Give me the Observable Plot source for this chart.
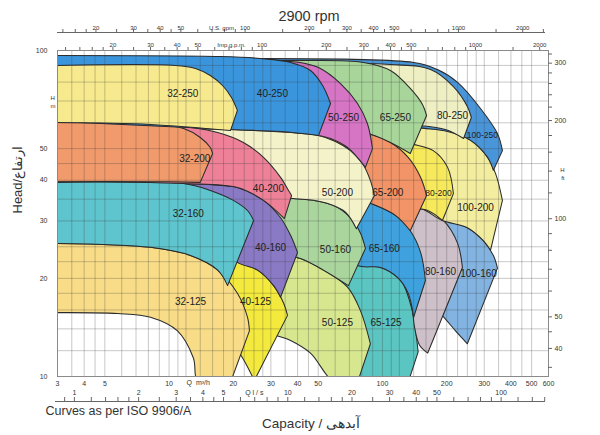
<!DOCTYPE html>
<html><head><meta charset="utf-8">
<script src="https://cdn.jsdelivr.net/npm/d3@7"></script>
<script src="https://cdn.jsdelivr.net/npm/@observablehq/plot@0.6"></script>
<style>body{margin:0;background:#fff}</style>
</head><body><div id="chart"></div>
<script>
// ---------- DATA (Q in m³/h, H in m) ----------
// Row 250
const top_100_250 = [[3,93.2],[140,91.9],[181,87.4],[225,79.8],[288,66.4],[346,55.6],[365,49.3]];
const bot_100_250 = [[331,42.9],[311,47.0],[259,53.0],[202,56.4],[146,58.1],[121,60.1],[3,62.3]];
const top_80_250 = [[3,91.2],[109,90.6],[168,87.4],[215,77.5],[250,67.3],[261,62.3]];
const bot_80_250 = [[240,53.7],[197,57.2],[146,58.9],[121,59.3],[3,61.9]];
const top_65_250 = [[3,93.2],[37.1,93.2],[81.5,91.9],[109,86.8],[135,76.5],[154,68.3],[161,63.2]];
const bot_65_250 = [[135,48.3],[109,52.2],[85,55.6],[63.6,56.0],[3,61.4]];
const top_50_250 = [[3,93.2],[37.1,92.5],[43.6,91.2],[50.2,88.7],[63.6,79.2],[76.4,68.8],[85,59.7],[89.8,50.0]];
const bot_50_250 = [[83.2,43.8],[68.6,50.4],[57.1,53.7],[50.2,54.9],[41.3,56.0],[3,61.0]];
const top_40_250 = [[3,96.5],[17.4,95.8],[26.8,94.5],[37.1,91.9],[46,86.8],[52.4,78.1],[57.1,68.8]];
const bot_40_250 = [[50.2,54.9],[33.3,56.4],[19.4,57.2],[3,60.6]];
const top_32_250 = [[3,90.0],[10.7,90.0],[13.3,88.1],[15.6,83.8],[17.8,78.1],[19.6,71.8],[20.9,65.5]];
const bot_32_250 = [[19.4,56.8],[8.18,59.3],[3,60.1]];
// Row 200
const top_100_200 = [[3,58.9],[146,58.1],[202,56.8],[259,53.0],[311,47.0],[339,41.9],[365,34.7]];
const bot_100_200 = [[321,24.4],[297,26.1],[250,28.6],[191,30.1],[151,32.8],[97.9,34.9],[41.3,37.5],[3,42.6]];
const top_80_200 = [[3,56.8],[97.9,54.9],[135,51.8],[173,49.3],[202,43.8],[215,36.4]];
const bot_80_200 = [[191,30.1],[163,32.3],[131,33.0],[97.9,34.7],[41.3,37.2],[3,42.3]];
const top_65_200 = [[3,58.5],[50.2,57.2],[85,55.6],[109,52.2],[132,47.0],[151,40.8],[161,35.9]];
const bot_65_200 = [[135,28.0],[115,31.2],[92.7,33.5],[73.1,35.2],[57.1,36.4],[26.8,37.7],[3,42.3]];
const top_50_200 = [[3,57.6],[19.4,57.2],[37.1,56.0],[50.2,54.9],[60.2,52.6],[70.8,49.3],[80.6,45.0],[87.8,39.9],[91.7,35.9]];
const bot_50_200 = [[75.5,28.4],[67.1,31.9],[57.1,33.7],[47.5,34.7],[37.1,35.2],[26.8,36.7],[19.4,38.8],[3,42.3]];
const top_40_200 = [[3,60.6],[8.18,60.1],[11.7,58.5],[16.9,56.0],[22.3,52.2],[27.7,47.0],[33.3,40.8],[36.3,37.2],[37.5,35.9]];
const bot_40_200 = [[34.7,30.5],[27.7,34.7],[20.9,38.0],[11.7,39.1],[3,39.6]];
const top_32_200 = [[3,60.1],[8.18,59.7],[11.7,57.6],[14.0,54.1],[15.6,50.4],[16.0,48.3]];
const bot_32_200 = [[14.0,39.4],[8.18,39.6],[3,39.6]];
// Row 160
const top_100_160 = [[3,31.9],[151,31.2],[191,30.1],[250,28.6],[297,26.1],[331,23.5],[346,21.5]];
const bot_100_160 = [[250,12.6],[220,13.8],[187,15.6],[159,17.1],[121,21.2],[97.9,22.4],[3,27.7]];
const top_80_160 = [[3,33.5],[97.9,33.7],[131,33.0],[163,32.3],[193,30.1],[225,25.6],[237,21.6]];
const bot_80_160 = [[163,11.8],[149,12.5],[141,14.3],[138,15.9],[121,20.0],[97.9,22.4],[3,27.1]];
const top_65_160 = [[3,34.7],[73.1,35.2],[92.7,33.5],[115,31.2],[135,28.0],[151,24.0],[159,19.7]];
const bot_65_160 = [[140,15.2],[132,18.0],[118,20.1],[97.9,21.6],[76.4,21.9],[57.1,26.1],[3,28.0]];
const top_50_160 = [[3,36.7],[24.1,36.2],[37.1,35.2],[47.5,34.7],[58.9,33.5],[70.8,30.7],[78.9,27.5],[83.2,24.7]];
const bot_50_160 = [[69.3,19.0],[52.9,21.2],[41.3,23.0],[33.3,23.8],[24.1,26.1],[3,28.0]];
const top_40_160 = [[3,39.6],[11.7,39.1],[20.9,38.0],[27.7,34.7],[33.3,30.7],[37.1,27.1],[40.0,24.0]];
const bot_40_160 = [[33.3,17.5],[30.9,19.0],[26.0,21.2],[20.9,22.4],[17.4,25.2],[8.18,27.1],[3,27.1]];
const top_32_160 = [[3,39.4],[11.7,39.1],[15.6,37.2],[20.0,34.7],[23.3,32.3],[24.9,30.1]];
const bot_32_160 = [[18.8,19.0],[16.9,21.2],[12.6,23.5],[8.18,24.9],[3,25.6]];
// Row 125
const top_65_125 = [[3,22.4],[76.4,21.9],[97.9,21.6],[118,20.1],[132,18.0],[140,15.2],[147,11.9]];
const bot_65_125 = [[132,9.59],[67.1,9.59],[57.1,10.6],[46.0,12.5],[37.1,13.6],[29.9,14.2],[25.4,15.4],[3,18.4]];
const top_50_125 = [[3,24.0],[33.3,23.8],[41.3,23.0],[52.9,21.2],[68.6,18.8],[78.9,15.9],[87.8,12.6]];
const bot_50_125 = [[76.4,9.59],[59.6,9.59],[46.0,11.8],[37.1,12.9],[29.9,13.6],[25.4,14.9],[3,17.1]];
const top_40_125 = [[3,24.4],[14.0,23.8],[20.9,22.4],[26.0,21.2],[30.9,19.0],[34.4,16.8],[35.9,15.4]];
const bot_40_125 = [[25.1,9.73],[22.8,11.0],[21.1,12.0],[19.0,13.5],[15.6,14.9],[11.3,16.5],[3,17.1]];
const top_32_125 = [[3,25.6],[8.18,24.9],[12.6,23.5],[16.9,21.2],[20.9,18.0],[23.3,15.2],[23.8,13.8]];
const bot_32_125 = [[19.4,9.59],[13.7,9.59],[13.0,11.4],[10.95,13.8],[8.18,15.2],[5.73,15.6],[3,15.7]];

// model names (draw order: lower rows first, larger pumps first in each row)
const models = ["65-125","50-125","40-125","32-125",
  "100-160","80-160","65-160","50-160","40-160","32-160",
  "100-200","80-200","65-200","50-200","40-200","32-200",
  "100-250","80-250","65-250","50-250","40-250","32-250"];
// label positions (Q, H) in the same order
const labelQ = [104,61.5,25.4,12.6, 282,187,102,60.2,29.9,12.3, 273,183,106,61.5,29.2,13.2, 294,213,115,65.7,30.5,11.6];
const labelH = [14.6,14.6,16.9,16.9, 20.7,20.9,24.7,24.55,24.9,31.6, 33.0,36.4,36.7,36.7,37.7,46.6, 54.9,63.2,62.3,62.3,73.8,73.8];

// axis tick values
const m3hLabels = [3,4,5,10,20,30,40,50,100,200,300,400,500,600];
const headLabels = [10,20,30,40,50,100];
const ftTicks = [35,40,45,50,60,70,80,90,100,120,140,160,180,200,220,240,260,280,300,320];
const ftLabels = [40,50,100,200,300];
const usTicks = [14,16,18,20,25,30,35,40,45,50,60,70,80,90,100,150,200,250,300,350,400,450,500,600,700,800,900,1000,1500,2000,2500];
const usLabels = [20,30,40,50,100,200,300,400,500,1000,2000];
const impTicks = [12,14,16,18,20,25,30,35,40,45,50,60,70,80,90,100,150,200,250,300,350,400,450,500,600,700,800,900,1000,1500,2000];
const impLabels = [20,30,40,50,100,200,300,400,500,1000,2000];
const lsTicks = [0.9,1,1.2,1.4,1.6,1.8,2,2.5,3,3.5,4,4.5,5,6,7,8,9,10,12,14,16,18,20,25,30,35,40,45,50,60,70,80,90,100,120,140,160];
const lsLabels = [1,2,3,4,5,10,20,30,40,50,100];
const gridQ = [3,3.5,4,4.5,5,6,7,8,9,10,11,12,14,16,18,20,22.5,25,27.5,30,35,40,45,50,60,70,80,90,100,110,120,140,160,180,200,225,250,275,300,350,400,450,500,600];
const gridH = [10,12,14,16,18,20,22.5,25,30,35,40,45,50,60,70,80,90,100];

// unit conversions to m³/h and m
const US_GPM = 4.4029, IMP_GPM = 3.6662, LPS = 3.6, FT = 3.2808;

// ---------- STYLE / LAYOUT ----------
const curves = {
  "100-250":[top_100_250,bot_100_250],"80-250":[top_80_250,bot_80_250],"65-250":[top_65_250,bot_65_250],
  "50-250":[top_50_250,bot_50_250],"40-250":[top_40_250,bot_40_250],"32-250":[top_32_250,bot_32_250],
  "100-200":[top_100_200,bot_100_200],"80-200":[top_80_200,bot_80_200],"65-200":[top_65_200,bot_65_200],
  "50-200":[top_50_200,bot_50_200],"40-200":[top_40_200,bot_40_200],"32-200":[top_32_200,bot_32_200],
  "100-160":[top_100_160,bot_100_160],"80-160":[top_80_160,bot_80_160],"65-160":[top_65_160,bot_65_160],
  "50-160":[top_50_160,bot_50_160],"40-160":[top_40_160,bot_40_160],"32-160":[top_32_160,bot_32_160],
  "65-125":[top_65_125,bot_65_125],"50-125":[top_50_125,bot_50_125],"40-125":[top_40_125,bot_40_125],"32-125":[top_32_125,bot_32_125]
};
const fillOf = {
  "32-250":"#f7ea8e","40-250":"#3b95dc","50-250":"#d575c4","65-250":"#a8d59a","80-250":"#efefc4","100-250":"#4895d9",
  "32-200":"#f19a6c","40-200":"#ee8098","50-200":"#f4f2c9","65-200":"#f29467","80-200":"#f7e95c","100-200":"#f3eda0",
  "32-160":"#5ec4cd","40-160":"#8a7ac6","50-160":"#aad69e","65-160":"#3fa2de","80-160":"#cdc0c9","100-160":"#82b3e1",
  "32-125":"#f8dc87","40-125":"#f4ea3d","50-125":"#d7e78f","65-125":"#5bc5c2"
};
const W = 600, H = 435, ML = 57, MR = 52, MT = 50, MB = 59;
const FW = W - ML - MR, FH = H - MT - MB;
const SANS = "'Liberation Sans',Arial,sans-serif";

function outline([top, bot]) {
  const tip = top[top.length - 1], b0 = bot[0];
  return [...top, tip, b0, ...bot].map(([q, h]) => ({q, h}));
}

const regionMarks = models.map(name => Plot.line(outline(curves[name]), {
  x: "q", y: "h", curve: "catmull-rom", fill: fillOf[name],
  stroke: "#2b2b2b", strokeWidth: 1.05, clip: true
}));

const labels = models.map((name, i) => ({name, q: labelQ[i], h: labelH[i]}));
const small = new Set(["100-250","80-200"]);

const chart = Plot.plot({
  width: W, height: H, marginLeft: ML, marginRight: MR, marginTop: MT, marginBottom: MB,
  style: {background: "#fff", fontFamily: SANS, fontSize: "7px", color: "#333", overflow: "visible"},
  x: {type: "log", domain: [3, 600], axis: null},
  y: {type: "log", domain: [10, 100], axis: null},
  marks: [
    ...regionMarks,
    Plot.ruleX(gridQ, {x: d => d, stroke: "#3a3a3a", strokeOpacity: 0.28, strokeWidth: 1}),
    Plot.ruleY(gridH, {y: d => d, stroke: "#3a3a3a", strokeOpacity: 0.28, strokeWidth: 1}),
    Plot.text(labels.filter(d => !small.has(d.name)), {x: "q", y: "h", text: "name", fontSize: 10, fill: "#222"}),
    Plot.text(labels.filter(d => small.has(d.name)), {x: "q", y: "h", text: "name", fontSize: 8.5, fill: "#222"}),
    Plot.frame({stroke: "#8a8a8a"}),
    // bottom m3/h axis
    Plot.text(m3hLabels, {x: d => d, text: d => String(d), frameAnchor: "bottom", dy: 9}),
    Plot.text(["Q  m³/h"], {x: () => 13.7, text: d => d, frameAnchor: "bottom", dy: 8, fontSize: 7}),
    // l/s axis
    Plot.ruleY([10], {y: d => d, dy: 25, insetLeft: -2, insetRight: 3, stroke: "#666"}),
    Plot.ruleX(lsTicks, {x: d => d * LPS, insetTop: FH + 21, insetBottom: -25, stroke: "#666"}),
    Plot.text(lsLabels, {x: d => d * LPS, text: d => String(d), frameAnchor: "bottom", dy: 18}),
    Plot.text(["Q l / s"], {x: () => 25.1, text: d => d, frameAnchor: "bottom", dy: 18}),
    // left head axis
    Plot.text(headLabels, {y: d => d, text: d => String(d), frameAnchor: "left", dx: -10, textAnchor: "end"}),
    Plot.text(["H"], {frameAnchor: "top-left", text: d => d, dx: -7, dy: 45, fontSize: 6}),
    Plot.text(["m"], {frameAnchor: "top-left", text: d => d, dx: -7, dy: 53, fontSize: 6}),
    // right ft axis
    Plot.ruleY(ftTicks, {y: d => d / FT, insetLeft: FW, insetRight: -4, stroke: "#666"}),
    Plot.text(ftLabels, {y: d => d / FT, text: d => String(d), frameAnchor: "right", dx: 6, textAnchor: "start"}),
    Plot.text(["H"], {frameAnchor: "top-right", text: d => d, dx: 16, dy: 117, fontSize: 6}),
    Plot.text(["ft"], {frameAnchor: "top-right", text: d => d, dx: 16, dy: 125, fontSize: 6}),
    // US gpm axis
    Plot.ruleY([100], {y: d => d, dy: -18, insetRight: 3, stroke: "#666"}),
    Plot.ruleX(usTicks, {x: d => d / US_GPM, insetTop: -21, insetBottom: FH + 18, stroke: "#666"}),
    Plot.text(usLabels, {x: d => d / US_GPM, text: d => String(d), frameAnchor: "top", dy: -25, fontSize: 6}),
    Plot.text(["U.S. gpm"], {x: () => 17.6, text: d => d, frameAnchor: "top", dy: -25, fontSize: 6}),
    // Imp gpm axis
    Plot.ruleX(impTicks, {x: d => d / IMP_GPM, insetTop: -3, insetBottom: FH, stroke: "#666"}),
    Plot.text(impLabels, {x: d => d / IMP_GPM, text: d => String(d), frameAnchor: "top", dy: -8, fontSize: 6}),
    Plot.text(["Imp.g.p.m."], {x: () => 19.6, text: d => d, frameAnchor: "top", dy: -8, fontSize: 6}),
    // titles
    Plot.text(["2900 rpm"], {frameAnchor: "top", text: d => d, dx: 6, dy: -40, fontSize: 14.5, fill: "#333"}),
    Plot.text(["Head/ارتفاع"], {frameAnchor: "left", text: d => d, dx: -40, rotate: -90, fontSize: 13, fill: "#333"}),
    Plot.text(["Curves as per ISO 9906/A"], {frameAnchor: "bottom-left", text: d => d, dx: -12, dy: 38, textAnchor: "start", fontSize: 12.5, fill: "#333"}),
    Plot.text(["Capacity / آبدهی"], {frameAnchor: "bottom", text: d => d, dx: 8, dy: 51, fontSize: 13.5, fill: "#333"})
  ]
});
document.getElementById("chart").append(chart);
</script>
</body></html>
